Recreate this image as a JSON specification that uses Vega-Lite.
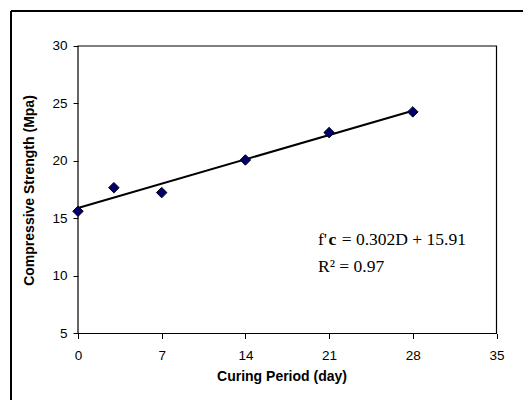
{
  "$schema": "https://vega.github.io/schema/vega-lite/v6.json",
  "width": 512,
  "height": 389,
  "autosize": {"type": "none"},
  "padding": {"left": 11, "top": 11, "right": 0, "bottom": 0},
  "background": "white",
  "config": {
    "view": {"stroke": null},
    "axis": {
      "labelFont": "Liberation Sans",
      "labelFontSize": 13.5,
      "labelColor": "#000",
      "titleFont": "Liberation Sans",
      "titleFontSize": 14,
      "titleFontWeight": "bold",
      "titleColor": "#000",
      "tickColor": "#000",
      "tickSize": 5,
      "domain": false,
      "grid": false
    }
  },
  "datasets": {
    "one": [{}],
    "points": [
      {"day": 0, "strength": 15.63},
      {"day": 3, "strength": 17.68},
      {"day": 7, "strength": 17.25},
      {"day": 14, "strength": 20.09},
      {"day": 21, "strength": 22.47},
      {"day": 28, "strength": 24.27}
    ],
    "trend": [
      {"day": 0, "strength": 15.91},
      {"day": 28, "strength": 24.366}
    ]
  },
  "layer": [
    {
      "data": {"name": "one"},
      "mark": {"type": "rect", "fill": "transparent", "stroke": "#000", "strokeWidth": 1.2},
      "encoding": {
        "x": {"datum": 0, "type": "quantitative", "scale": {"domain": [-5.603, 37.216], "nice": false, "zero": false},
          "axis": {"values": [0, 7, 14, 21, 28, 35], "offset": -66.5, "title": "Curing Period (day)", "titleX": 270.5, "labelPadding": 10, "titlePadding": 7}},
        "x2": {"datum": 35},
        "y": {"datum": 5, "type": "quantitative", "scale": {"domain": [-0.783, 33.043], "nice": false, "zero": false},
          "axis": {"values": [5, 10, 15, 20, 25, 30], "offset": -67, "title": "Compressive Strength (Mpa)", "titleY": 179, "labelPadding": 6, "titlePadding": 15}},
        "y2": {"datum": 30}
      }
    },
    {
      "data": {"name": "one"},
      "mark": {"type": "rule", "stroke": "#000", "strokeWidth": 2},
      "encoding": {"x": {"datum": -5.603, "type": "quantitative"}}
    },
    {
      "data": {"name": "one"},
      "mark": {"type": "rule", "stroke": "#000", "strokeWidth": 2},
      "encoding": {"y": {"datum": 33.043, "type": "quantitative"}}
    },
    {
      "data": {"name": "trend"},
      "mark": {"type": "line", "stroke": "#000", "strokeWidth": 2},
      "encoding": {
        "x": {"field": "day", "type": "quantitative"},
        "y": {"field": "strength", "type": "quantitative"}
      }
    },
    {
      "data": {"name": "points"},
      "mark": {"type": "point", "shape": "diamond", "filled": true, "size": 110, "fill": "#000066", "stroke": "#000022", "strokeWidth": 1, "opacity": 1},
      "encoding": {
        "x": {"field": "day", "type": "quantitative"},
        "y": {"field": "strength", "type": "quantitative"}
      }
    },
    {
      "data": {"values": [{"x": 20.07, "y": 12.7, "t": "f'"}, {"x": 22.05, "y": 12.7, "t": "= 0.302D + 15.91"}, {"x": 20.07, "y": 10.37, "t": "R² = 0.97"}]},
      "mark": {"type": "text", "font": "Liberation Serif", "fontSize": 17.5, "align": "left", "baseline": "alphabetic", "color": "#000"},
      "encoding": {
        "x": {"field": "x", "type": "quantitative"},
        "y": {"field": "y", "type": "quantitative"},
        "text": {"field": "t"}
      }
    },
    {
      "data": {"values": [{"x": 20.94, "y": 12.7, "t": "c"}]},
      "mark": {"type": "text", "font": "Liberation Serif", "fontSize": 17.5, "fontWeight": "bold", "align": "left", "baseline": "alphabetic", "color": "#000"},
      "encoding": {
        "x": {"field": "x", "type": "quantitative"},
        "y": {"field": "y", "type": "quantitative"},
        "text": {"field": "t"}
      }
    }
  ]
}
